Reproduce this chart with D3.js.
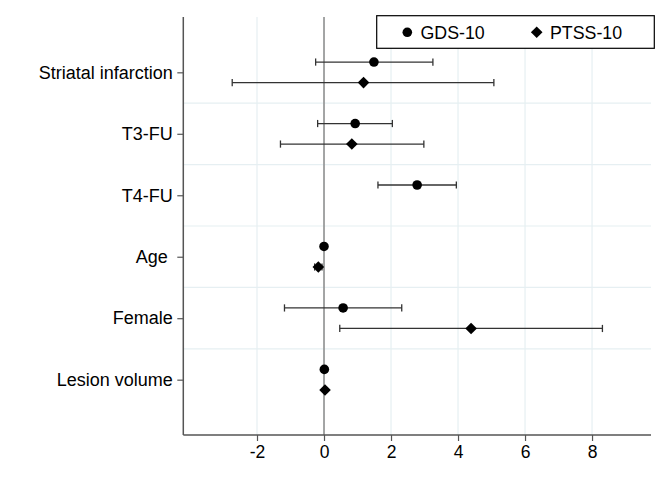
<!DOCTYPE html>
<html><head><meta charset="utf-8">
<script src="https://cdn.jsdelivr.net/npm/d3@7"></script>
<style>body{margin:0;background:#fff}svg{display:block}text{font-family:"Liberation Sans",Arial,sans-serif;fill:#000}</style>
</head><body><div id="chart"></div>
<script>
const categories = ["Striatal infarction","T3-FU","T4-FU","Age ","Female","Lesion volume"];
const seriesNames = ["GDS-10","PTSS-10"];
// GDS-10 : estimate, lower, upper
const gdsEst = [1.49, 0.93, 2.78, 0.00, 0.57, 0.01];
const gdsLo  = [-0.25, -0.19, 1.61, -0.02, -1.18, -0.01];
const gdsHi  = [3.25, 2.04, 3.95, 0.02, 2.32, 0.03];
// PTSS-10 : estimate, lower, upper (null = not in model)
const ptssEst = [1.18, 0.83, null, -0.17, 4.39, 0.03];
const ptssLo  = [-2.74, -1.30, null, -0.28, 0.47, 0.01];
const ptssHi  = [5.07, 2.98, null, -0.06, 8.31, 0.05];
const xTicks = [-2, 0, 2, 4, 6, 8];

(function () {
const W = 669, H = 486;
const pL = 183.3, pR = 651, pT = 17, pB = 435;
const svg = d3.select("#chart").append("svg").attr("width", W).attr("height", H);

const x = d3.scaleLinear().domain([-4.2, 9.76]).range([pL, pR]);
const y = d3.scaleLinear().domain([-0.9, 5.9]).range([pT, pB]);
const off = 0.167;

// grid
const g = svg.append("g");
g.selectAll("line.vg").data(xTicks).enter().append("line")
  .attr("x1", d => x(d)).attr("x2", d => x(d)).attr("y1", pT).attr("y2", pB)
  .attr("stroke", "#e6eff2").attr("stroke-width", 1.2);
g.selectAll("line.hg").data(d3.range(categories.length - 1)).enter().append("line")
  .attr("x1", pL).attr("x2", pR).attr("y1", d => y(d + 0.5)).attr("y2", d => y(d + 0.5))
  .attr("stroke", "#e6eff2").attr("stroke-width", 1.2);

// zero line
svg.append("line").attr("x1", x(0)).attr("x2", x(0)).attr("y1", pT).attr("y2", pB)
  .attr("stroke", "#8a8a8a").attr("stroke-width", 1.5);

// axes
const xAxis = d3.axisBottom(x).tickValues(xTicks).tickSize(6).tickPadding(5).tickFormat(d => d < 0 ? "-" + Math.abs(d) : d);
const xg = svg.append("g").attr("transform", `translate(0,${pB})`).call(xAxis);
xg.select(".domain").attr("d", `M${pL},0H${pR}`).attr("stroke", "#555").attr("stroke-width", 1.5);
xg.selectAll(".tick line").attr("stroke", "#555").attr("stroke-width", 1.2);
xg.selectAll("text").style("font-size", "17.5px").attr("fill", "#000").attr("font-family", null);

const yAxis = d3.axisLeft(y).tickValues(d3.range(categories.length)).tickSize(6).tickPadding(4.5).tickFormat(i => categories[i]);
const yg = svg.append("g").attr("transform", `translate(${pL},0)`).call(yAxis);
yg.select(".domain").attr("d", `M0,${pT}V${pB}`).attr("stroke", "#555").attr("stroke-width", 1.5);
yg.selectAll(".tick line").attr("stroke", "#555").attr("stroke-width", 1.2);
yg.selectAll("text").style("font-size", "18px").style("white-space", "pre").attr("fill", "#000").attr("font-family", null);

// data
function rows(est, lo, hi, o) {
  return est.map((e, i) => ({i, e, lo: lo[i], hi: hi[i], o})).filter(d => d.e !== null);
}
const gRows = rows(gdsEst, gdsLo, gdsHi, -off);
const pRows = rows(ptssEst, ptssLo, ptssHi, off);
const capH = 3.6;
[gRows, pRows].forEach(rs => {
  const eg = svg.append("g").attr("stroke", "#333").attr("stroke-width", 1.3);
  rs.forEach(d => {
    const yy = y(d.i + d.o);
    eg.append("line").attr("x1", x(d.lo)).attr("x2", x(d.hi)).attr("y1", yy).attr("y2", yy);
    eg.append("line").attr("x1", x(d.lo)).attr("x2", x(d.lo)).attr("y1", yy - capH).attr("y2", yy + capH);
    eg.append("line").attr("x1", x(d.hi)).attr("x2", x(d.hi)).attr("y1", yy - capH).attr("y2", yy + capH);
  });
});
const circ = d3.symbol().type(d3.symbolCircle).size(Math.PI * 4.8 * 4.8);
const diam = d3.symbol().type(d3.symbolSquare).size(8.2 * 8.2);
svg.append("g").selectAll("path").data(gRows).enter().append("path")
  .attr("d", circ).attr("transform", d => `translate(${x(d.e)},${y(d.i + d.o)})`).attr("fill", "#000");
svg.append("g").selectAll("path").data(pRows).enter().append("path")
  .attr("d", diam).attr("transform", d => `translate(${x(d.e)},${y(d.i + d.o)}) rotate(45)`).attr("fill", "#000");

// legend
const lg = svg.append("g");
lg.append("rect").attr("x", 376.7).attr("y", 15.7).attr("width", 277.6).attr("height", 32.6)
  .attr("fill", "#fff").attr("stroke", "#000").attr("stroke-width", 1.2);
lg.append("path").attr("d", circ).attr("transform", "translate(407.3,32.3)").attr("fill", "#000");
lg.append("text").attr("x", 420.5).attr("y", 38.8).style("font-size", "17.8px").text(seriesNames[0]);
lg.append("path").attr("d", diam).attr("transform", "translate(536.7,32.3) rotate(45)").attr("fill", "#000");
lg.append("text").attr("x", 550).attr("y", 38.8).style("font-size", "17.8px").text(seriesNames[1]);
})();
</script></body></html>
